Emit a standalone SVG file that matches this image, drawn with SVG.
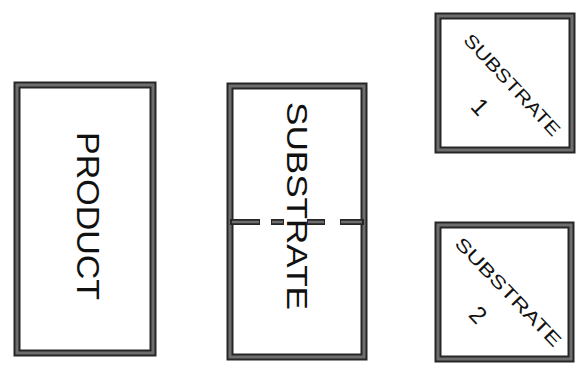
<svg xmlns="http://www.w3.org/2000/svg" width="581" height="370" viewBox="0 0 581 370">
<style>
.frame-out{fill:none;stroke:#262626;stroke-width:7}
.frame-in{fill:none;stroke:#6e6e6e;stroke-width:3}
.hand{font-family:"Liberation Sans","DejaVu Sans",sans-serif;fill:#111;text-anchor:middle}
.dash-out{stroke:#262626;stroke-width:6;stroke-linecap:butt}
.dash-in{stroke:#6e6e6e;stroke-width:2.5;stroke-linecap:butt}
</style>
<rect width="581" height="370" fill="#fff"/>
<g id="product">
<rect class="frame-out" x="17" y="85" width="136" height="268"/>
<rect class="frame-in" x="17" y="85" width="136" height="268"/>
<text class="hand" transform="translate(88,216) rotate(90)" y="11" font-size="31" textLength="168" lengthAdjust="spacingAndGlyphs">PRODUCT</text>
</g>
<g id="substrate">
<rect class="frame-out" x="230" y="86" width="134" height="271"/>
<rect class="frame-in" x="230" y="86" width="134" height="271"/>
<text class="hand" transform="translate(297,206) rotate(90)" y="10" font-size="29" textLength="208" lengthAdjust="spacingAndGlyphs">SUBSTRATE</text>
</g>
<g id="connectors">
<g id="divider">
<line class="dash-out" x1="230" y1="222" x2="260" y2="222"/>
<line class="dash-out" x1="271" y1="222" x2="284" y2="222"/>
<line class="dash-out" x1="307" y1="222" x2="325" y2="222"/>
<line class="dash-out" x1="340" y1="222" x2="364" y2="222"/>
<line class="dash-in" x1="232" y1="222" x2="259" y2="222"/>
<line class="dash-in" x1="272" y1="222" x2="283" y2="222"/>
<line class="dash-in" x1="308" y1="222" x2="324" y2="222"/>
<line class="dash-in" x1="341" y1="222" x2="362" y2="222"/>
</g>
</g>
<g id="substrate1">
<rect class="frame-out" x="438" y="16" width="134" height="134"/>
<rect class="frame-in" x="438" y="16" width="134" height="134"/>
<text class="hand" transform="translate(512,85) rotate(47)" y="6" font-size="18" textLength="132" lengthAdjust="spacingAndGlyphs">SUBSTRATE</text>
<text class="hand" transform="translate(480,107) rotate(47)" y="8" font-size="24">1</text>
</g>
<g id="substrate2">
<rect class="frame-out" x="438" y="225" width="133" height="134"/>
<rect class="frame-in" x="438" y="225" width="133" height="134"/>
<text class="hand" transform="translate(508,292) rotate(46)" y="6" font-size="18" textLength="144" lengthAdjust="spacingAndGlyphs">SUBSTRATE</text>
<text class="hand" transform="translate(478,315) rotate(46)" y="8" font-size="24">2</text>
</g>
</svg>
